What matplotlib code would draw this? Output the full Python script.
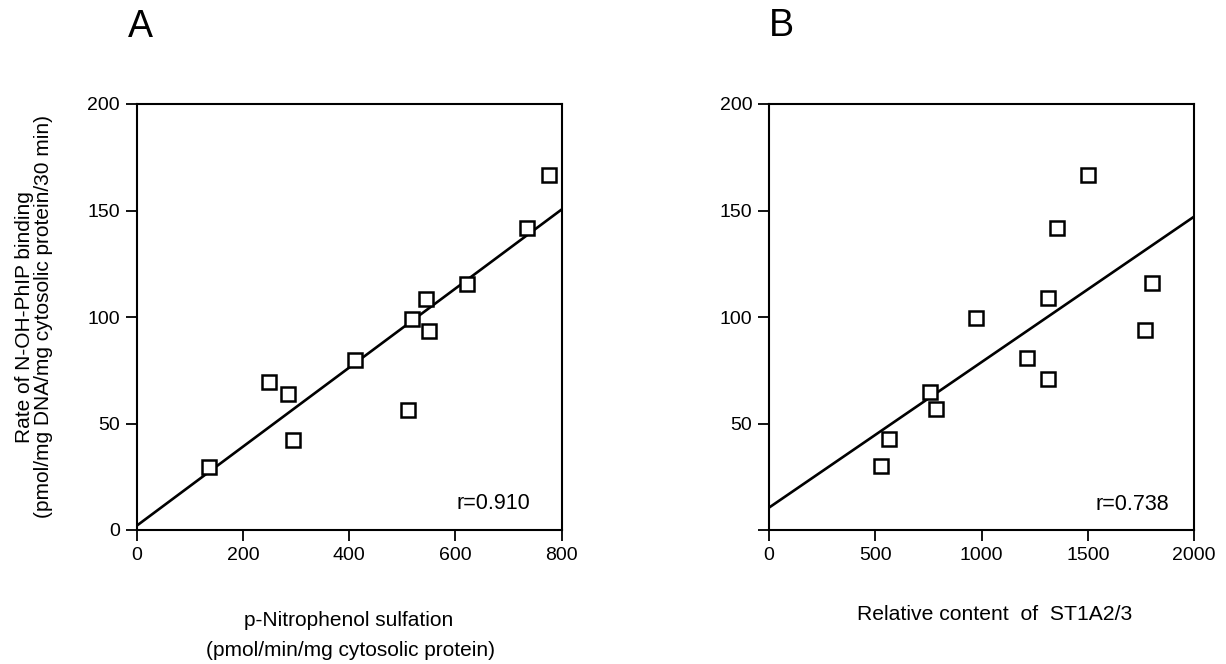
import matplotlib
matplotlib.use("Agg")
import matplotlib.pyplot as plt
import numpy as np

plt.rcParams['font.family'] = ['Liberation Sans', 'DejaVu Sans']

# Panel A data
a_x = [136, 249, 285, 294, 410, 518, 511, 545, 551, 622, 734, 777]
a_y = [29.7, 69.6, 63.8, 42.3, 79.8, 99.2, 56.3, 108.3, 93.4, 115.5, 141.6, 166.5]
a_line_x = [0, 800]
a_line_y = [2.0, 150.5]

# Panel B data
b_x = [527, 566, 758, 786, 974, 1214, 1315, 1315, 1354, 1503, 1768, 1801]
b_y = [30.2, 42.6, 64.6, 56.7, 99.5, 80.9, 70.7, 108.8, 141.6, 166.7, 93.9, 116.1]
b_line_x = [0, 2000]
b_line_y = [10.5, 147.1]

a_xticks = [0, 200, 400, 600, 800]
b_xticks = [0, 500, 1000, 1500, 2000]
yticks = [0, 50, 100, 150, 200]
a_ylabels = ['0', '50', '100', '150', '200']
b_ylabels = ['', '50', '100', '150', '200']

fig = plt.figure(figsize=(12.26, 6.64), dpi=100)
axA = fig.add_axes([136.7/1226, 1-530/664, 425/1226, 426/664])
axB = fig.add_axes([769/1226, 1-530/664, 425/1226, 426/664])

def style(ax):
    for s in ax.spines.values():
        s.set_linewidth(1.5)
        s.set_color('black')
    ax.tick_params(direction='out', length=8, width=1.3, labelsize=14, pad=4, colors='black')

for ax, x, y, lx, ly, xt, xmax, ylab, rtxt, rpos in [
    (axA, a_x, a_y, a_line_x, a_line_y, a_xticks, 800, a_ylabels, 'r=0.910', (672, 12.3)),
    (axB, b_x, b_y, b_line_x, b_line_y, b_xticks, 2000, b_ylabels, 'r=0.738', (1710, 12.0)),
]:
    ax.plot(lx, ly, color='black', lw=1.9, solid_capstyle='butt')
    ax.plot(x, y, linestyle='none', marker='s', markersize=9.5, markerfacecolor='white',
            markeredgecolor='black', markeredgewidth=1.8)
    ax.set_xlim(0, xmax)
    ax.set_ylim(0, 200)
    ax.set_xticks(xt)
    ax.set_yticks(yticks)
    ax.set_yticklabels(ylab)
    style(ax)
    ax.text(rpos[0], rpos[1], rtxt, ha='center', va='center', fontsize=15.5)

fig.text(34/1226, 1-317/664, 'Rate of N-OH-PhIP binding\n(pmol/mg DNA/mg cytosolic protein/30 min)',
         rotation=90, ha='center', va='center', fontsize=15, linespacing=1.05)
fig.text(349/1226, 1-621/664, 'p-Nitrophenol sulfation', ha='center', va='center', fontsize=15)
fig.text(350/1226, 1-651/664, '(pmol/min/mg cytosolic protein)', ha='center', va='center', fontsize=15)
fig.text(995/1226, 1-614/664, 'Relative content  of  ST1A2/3', ha='center', va='center', fontsize=15.2)

fig.text(140/1226, 1-27/664, 'A', ha='center', va='center', fontsize=27,
         family=['Liberation Sans Narrow', 'Liberation Sans'])
fig.text(781/1226, 1-26/664, 'B', ha='center', va='center', fontsize=27,
         family=['Liberation Sans Narrow', 'Liberation Sans'])

fig.savefig('out.png', dpi=100)
